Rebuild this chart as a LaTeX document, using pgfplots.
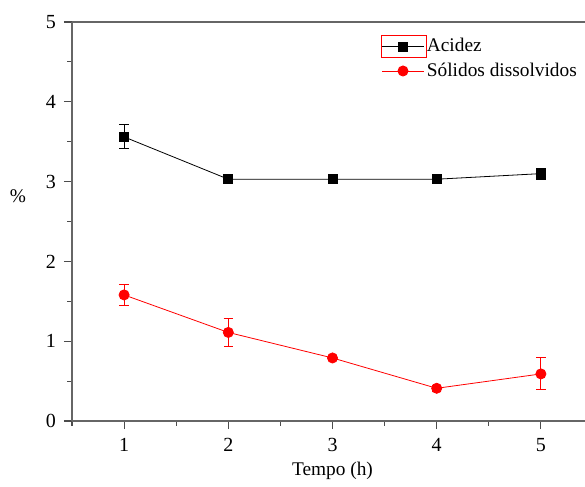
\documentclass[border=0pt]{standalone}
\usepackage{fontspec}
\setmainfont{Liberation Serif}
\usepackage{pgfplots}
\pgfplotsset{compat=1.18}
\usetikzlibrary{calc}
\begin{document}
\fontsize{14.5}{17}\selectfont
\begin{tikzpicture}
\begin{axis}[
  name=ax,
  scale only axis,
  width=390.75pt, height=299.25pt,
  xmin=0.5, xmax=5.5, ymin=0, ymax=5,
  xtick={1,2,3,4,5}, ytick={0,1,2,3,4,5},
  minor xtick={0.5,1.5,2.5,3.5,4.5},
  minor ytick={0.5,1.5,2.5,3.5,4.5},
  xtick pos=bottom, ytick pos=left,
  tick align=outside,
  major tick length=6pt, minor tick length=3.5pt,
  tick style={black!70, line width=0.8pt},
  axis line style={line width=0.9pt},
  separate axis lines,
  x axis line style={black!60},
  y axis line style={black!60},
  /pgf/number format/assume math mode=true,
  ticklabel style={font=\fontsize{15}{17}\selectfont},
  xticklabel style={yshift=-2pt},
  yticklabel style={xshift=-1pt},
  every axis y label/.style={at={(rel axis cs:0,0.564)}, xshift=-40.5pt, anchor=center},
  every axis x label/.style={at={(rel axis cs:0.5,0)}, yshift=-37.5pt, anchor=center},
  xlabel={Tempo (h)}, ylabel={\%},
  legend style={draw=none, fill=none, at={(axis cs:3.47,4.83)}, anchor=north west,
    font=\fontsize{14.5}{17}\selectfont, row sep=2pt, inner sep=0pt},
  legend cell align=left,
  legend image code/.code={\draw[mark repeat=2,mark phase=2] plot coordinates {(0cm,0cm)(0.55cm,0cm)(1.1cm,0cm)};},
]
\addlegendimage{black, line width=0.6pt, mark=square*, mark size=3.4pt}
\addlegendentry{Acidez}
\addlegendimage{red, line width=0.6pt, mark=*, mark size=3.8pt}
\addlegendentry{Sólidos dissolvidos}
\addplot[forget plot, black, line width=0.6pt, mark=square*, mark size=3.4pt,
  error bars/.cd, y dir=both, y explicit,
  error bar style={line width=0.7pt},
  error mark options={rotate=90, mark size=3.5pt, line width=0.7pt}]
  coordinates {
  (1,3.56) +- (0,0.15)
  (2,3.03) +- (0,0)
  (3,3.03) +- (0,0)
  (4,3.03) +- (0,0)
  (5,3.10) +- (0,0.07)
};
\addplot[forget plot, red, line width=0.6pt, mark=*, mark size=3.8pt,
  error bars/.cd, y dir=both, y explicit,
  error bar style={line width=0.7pt},
  error mark options={rotate=90, mark size=3.5pt, line width=0.7pt}]
  coordinates {
  (1,1.58) +- (0,0.13)
  (2,1.11) +- (0,0.18)
  (3,0.79) +- (0,0)
  (4,0.41) +- (0,0.04)
  (5,0.59) +- (0,0.20)
};
\draw[red, line width=0.6pt] (axis cs:3.47,4.56) rectangle (axis cs:3.90,4.837);
\end{axis}
\pgfresetboundingbox
\path[use as bounding box] ($(ax.south west)+(-54pt,-48.75pt)$) rectangle ($(ax.south west)+(384.75pt,315.75pt)$);
\end{tikzpicture}
\end{document}
